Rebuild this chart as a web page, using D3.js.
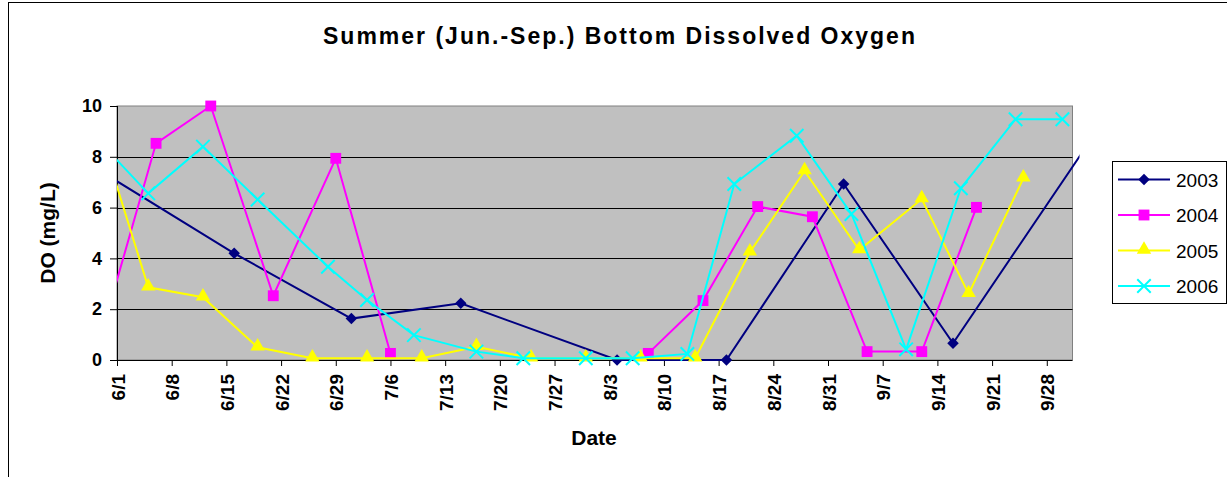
<!DOCTYPE html>
<html>
<head>
<meta charset="utf-8">
<script src="https://cdn.jsdelivr.net/npm/d3@7"></script>
<style>
  body { margin: 0; background: #fff; }
  text { font-family: "Liberation Sans", Arial, sans-serif; }
</style>
</head>
<body>
<div id="chart"></div>
<script>
// values (dates as month/day, null = no sample, line breaks)
const years = ["2003", "2004", "2005", "2006"];
const dates2003 = ["5/19", "6/16", "7/1", "7/15", "8/4", "8/18", "9/2", "9/16", "10/7"];
const do2003 = [9.5, 4.2, 1.63, 2.23, 0, 0, 6.93, 0.66, 10.2];
const dates2004 = ["5/30", "6/6", "6/13", "6/21", "6/29", "7/6", "7/22", "8/8", "8/15", "8/22", "8/29", "9/5", "9/12", "9/19"];
const do2004 = [1.0, 8.53, 10.0, 2.53, 7.94, 0.26, null, 0.26, 2.34, 6.04, 5.64, 0.33, 0.33, 6.01];
const dates2005 = ["5/29", "6/5", "6/12", "6/19", "6/26", "7/3", "7/10", "7/17", "7/24", "7/31", "8/7", "8/14", "8/21", "8/28", "9/4", "9/12", "9/18", "9/25"];
const do2005 = [9.8, 2.86, 2.47, 0.5, 0.07, 0.07, 0.07, 0.52, 0.07, 0.07, 0.07, 0.07, 4.24, 7.44, 4.33, 6.34, 2.6, 7.15];
const dates2006 = ["5/29", "6/5", "6/12", "6/19", "6/28", "7/3", "7/9", "7/17", "7/23", "7/31", "8/6", "8/13", "8/19", "8/27", "9/3", "9/10", "9/17", "9/24", "9/30"];
const do2006 = [8.85, 6.56, 8.4, 6.32, 3.67, 2.36, 0.98, 0.33, 0.07, 0.07, 0.07, 0.24, 6.93, 8.83, 5.75, 0.42, 6.76, 9.48, 9.48];
const xTickLabels = ["6/1", "6/8", "6/15", "6/22", "6/29", "7/6", "7/13", "7/20", "7/27", "8/3", "8/10", "8/17", "8/24", "8/31", "9/7", "9/14", "9/21", "9/28"];
const yTicks = [0, 2, 4, 6, 8, 10];

const parseDate = d3.utcParse("%m/%d");
const seriesDates = [dates2003, dates2004, dates2005, dates2006];
const seriesValues = [do2003, do2004, do2005, do2006];
const colors = ["#000080", "#FF00FF", "#FFFF00", "#00FFFF"];
const markers = ["diamond", "square", "triangle", "x"];

const series = years.map((y, i) => ({
    name: y,
    color: colors[i],
    marker: markers[i],
    points: seriesDates[i].map((d, j) => ({date: parseDate(d), value: seriesValues[i][j]}))
}));

// set the dimensions and margins of the graph
const W = 1227, H = 477;
const margin = {top: 106, left: 117},
    width = 955.5,
    height = 254;

const svg = d3.select("#chart")
    .append("svg")
    .attr("width", W)
    .attr("height", H);

// outer chart frame
svg.append("rect")
    .attr("x", 8.5).attr("y", 2.5)
    .attr("width", W + 10).attr("height", H + 10)
    .attr("fill", "#fff")
    .attr("stroke", "#000");

// scales
const xMin = parseDate("6/1");
const xMax = new Date(Date.UTC(1900, 9, 1, 7));
const x = d3.scaleUtc().domain([xMin, xMax]).range([0, width]);
const y = d3.scaleLinear().domain([0, 10]).range([height, 0]);

const g = svg.append("g")
    .attr("transform", `translate(${margin.left},${margin.top})`);

// plot area
g.append("rect")
    .attr("width", width).attr("height", height)
    .attr("fill", "#C0C0C0")
    .attr("stroke", "#808080");

// gridlines
g.selectAll(".grid")
    .data(yTicks.filter(t => t > 0 && t < 10))
    .enter().append("line")
    .attr("x1", 0).attr("x2", width)
    .attr("y1", d => Math.round(y(d)) + 0.5)
    .attr("y2", d => Math.round(y(d)) + 0.5)
    .attr("stroke", "#000");

// title
svg.append("text")
    .attr("x", 620).attr("y", 44)
    .attr("text-anchor", "middle")
    .style("font-size", "23px")
    .style("font-weight", "bold")
    .style("letter-spacing", "2px")
    .text("Summer (Jun.-Sep.) Bottom Dissolved Oxygen");

// Y axis
const yAxis = g.append("g")
    .call(d3.axisLeft(y).tickValues(yTicks).tickSize(7).tickPadding(8).tickFormat(d3.format("d")));
yAxis.select(".domain").attr("stroke", "#000").attr("d", `M0.5,0V${height}`);
yAxis.selectAll(".tick line").attr("stroke", "#000");
yAxis.selectAll("text")
    .style("font-size", "18px")
    .style("font-weight", "bold")
    .attr("fill", "#000");

// X axis
const xTickDates = xTickLabels.map(parseDate);
const xAxis = g.append("g")
    .attr("transform", `translate(0,${height})`)
    .call(d3.axisBottom(x).tickValues(xTickDates).tickSize(6).tickFormat((d, i) => xTickLabels[i]));
xAxis.select(".domain").attr("stroke", "#000").attr("d", `M0,0.5H${width}`);
xAxis.selectAll(".tick line").attr("stroke", "#000");
xAxis.selectAll("text")
    .attr("transform", "translate(7,14)rotate(-90)")
    .attr("x", 0).attr("y", 0).attr("dy", 0)
    .style("text-anchor", "end")
    .style("font-size", "19px")
    .style("font-weight", "bold")
    .attr("fill", "#000");

// axis titles
svg.append("text")
    .attr("x", 594).attr("y", 445)
    .attr("text-anchor", "middle")
    .style("font-size", "21px")
    .style("font-weight", "bold")
    .text("Date");
svg.append("text")
    .attr("transform", `translate(55,${margin.top + height / 2})rotate(-90)`)
    .attr("text-anchor", "middle")
    .style("font-size", "21px")
    .style("font-weight", "bold")
    .text("DO (mg/L)");

// clip for lines (Excel lets the last segment run a little past the right edge)
svg.append("clipPath").attr("id", "plotClip")
    .append("rect")
    .attr("x", 0).attr("y", -2)
    .attr("width", width + 7).attr("height", height + 4);

const line = d3.line()
    .defined(d => d.value !== null)
    .x(d => x(d.date))
    .y(d => y(d.value));

function symbolPath(type) {
    if (type === "diamond") return d3.symbol().type(d3.symbolSquare).size(66)();
    if (type === "square") return d3.symbol().type(d3.symbolSquare).size(118)();
    if (type === "triangle") return d3.symbol().type(d3.symbolTriangle).size(90)();
    return d3.symbol().type(d3.symbolX).size(120)();
}
function drawMarker(sel, s) {
    const p = sel.append("path").attr("d", symbolPath(s.marker));
    if (s.marker === "x") {
        p.attr("fill", "none").attr("stroke", s.color).attr("stroke-width", 2);
    } else {
        p.attr("fill", s.color);
    }
    if (s.marker === "diamond") p.attr("transform", "rotate(45)");
    if (s.marker === "triangle") p.attr("transform", "translate(0,-1)");
    return p;
}

series.forEach(s => {
    g.append("path")
        .datum(s.points)
        .attr("clip-path", "url(#plotClip)")
        .attr("fill", "none")
        .attr("stroke", s.color)
        .attr("stroke-width", 2)
        .attr("d", line);
    g.selectAll(null)
        .data(s.points.filter(d => d.value !== null && d.date >= xMin && d.date <= xMax))
        .enter().append("g")
        .attr("transform", d => `translate(${x(d.date)},${y(d.value)})`)
        .each(function() { drawMarker(d3.select(this), s); });
});

// legend
const legend = svg.append("g").attr("transform", "translate(1112,161)");
legend.append("rect")
    .attr("x", 0.5).attr("y", 0.5)
    .attr("width", 114).attr("height", 142)
    .attr("fill", "#fff")
    .attr("stroke", "#000");
series.forEach((s, i) => {
    const row = legend.append("g").attr("transform", `translate(0,${18.5 + i * 35.5})`);
    row.append("line")
        .attr("x1", 6).attr("x2", 58)
        .attr("stroke", s.color).attr("stroke-width", 2);
    drawMarker(row.append("g").attr("transform", "translate(32,0)"), s);
    row.append("text")
        .attr("x", 64).attr("y", 7)
        .style("font-size", "19px")
        .text(s.name);
});
</script>
</body>
</html>
